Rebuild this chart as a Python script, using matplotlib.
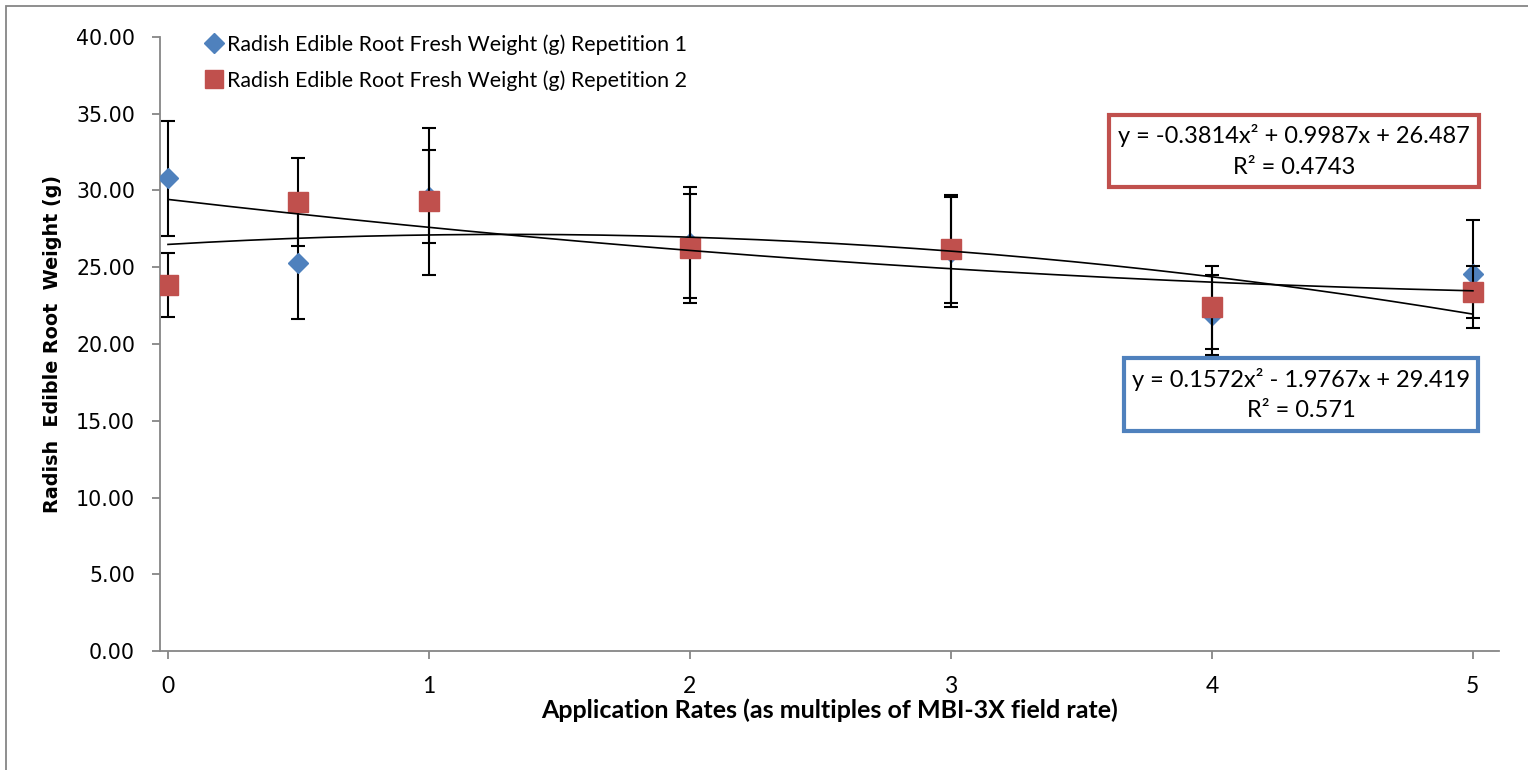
import matplotlib
matplotlib.use("Agg")
import matplotlib.pyplot as plt
from matplotlib.patches import Rectangle
from matplotlib.lines import Line2D
import numpy as np

# ---- data ----
rates = [0, 0.5, 1, 2, 3, 4, 5]
rep1 = [30.8, 25.3, 29.6, 26.6, 26.0, 21.9, 24.55]
rep1_err = [3.75, 3.7, 3.05, 3.6, 3.6, 2.6, 3.5]
rep2 = [23.85, 29.25, 29.3, 26.25, 26.2, 22.4, 23.4]
rep2_err = [2.1, 2.87, 4.8, 3.55, 3.5, 2.7, 1.68]
fit1 = [0.1572, -1.9767, 29.419]   # y = a x^2 + b x + c  (Repetition 1)
fit2 = [-0.3814, 0.9987, 26.487]   # Repetition 2
label1 = "Radish Edible Root Fresh Weight (g) Repetition 1"
label2 = "Radish Edible Root Fresh Weight (g) Repetition 2"
eq1 = "y = 0.1572x² - 1.9767x + 29.419\nR² = 0.571"
eq2 = "y = -0.3814x² + 0.9987x + 26.487\nR² = 0.4743"
yticks = [0, 5, 10, 15, 20, 25, 30, 35, 40]
xticks = [0, 1, 2, 3, 4, 5]
xlabel = "Application Rates (as multiples of MBI-3X field rate)"
ylabel = "Radish  Edible Root  Weight (g)"

BLUE = "#4F81BD"
RED = "#C0504D"
GRAY = "#868686"
W, H = 1528, 770
TXT = "Lato"

fig = plt.figure(figsize=(W / 100, H / 100), dpi=100)

def fx(px):
    return px / W

def fy(py):
    return 1 - py / H

ax = fig.add_axes([fx(160), fy(651), fx(1499) - fx(160), fy(37) - fy(651)])
ax.set_xlim(-0.0306, 5.1)
ax.set_ylim(0, 40)

# outer border (top & left visible)
fig.patches.append(Rectangle((fx(6), -0.1), 2, fy(6) + 0.1, transform=fig.transFigure,
                             fill=False, edgecolor=GRAY, lw=1.3))

# error bars and markers
ax.errorbar(rates, rep1, yerr=rep1_err, fmt="none", ecolor="black", elinewidth=1.5,
            capsize=5, capthick=1.5, zorder=2)
ax.plot(rates, rep1, linestyle="none", marker="D", markersize=10, color=BLUE,
        markeredgecolor=BLUE, zorder=3, label=label1)
ax.errorbar(rates, rep2, yerr=rep2_err, fmt="none", ecolor="black", elinewidth=1.5,
            capsize=5, capthick=1.5, zorder=4)
ax.plot(rates, rep2, linestyle="none", marker="s", markersize=14, color=RED,
        markeredgecolor=RED, zorder=5, label=label2)

# trend lines
xx = np.linspace(rates[0], rates[-1], 200)
ax.plot(xx, np.polyval(fit1, xx), color="black", lw=1.2, zorder=6)
ax.plot(xx, np.polyval(fit2, xx), color="black", lw=1.2, zorder=6)

# axes styling
for s in ["top", "right"]:
    ax.spines[s].set_visible(False)
for s in ["left", "bottom"]:
    ax.spines[s].set_color(GRAY)
    ax.spines[s].set_linewidth(1.3)
ax.set_yticks(yticks)
ax.set_yticklabels([f"{v:.2f}" for v in yticks], fontfamily="DejaVu Sans", fontsize=14.8)
ax.set_xticks(xticks)
ax.set_xticklabels([str(v) for v in xticks], fontfamily=TXT, fontsize=16.5)
ax.tick_params(axis="y", direction="out", length=6, width=1.3, color=GRAY, pad=12)
ax.tick_params(axis="x", direction="out", length=6, width=1.3, color=GRAY, pad=12)

ax.set_xlabel(xlabel, fontfamily=TXT, fontweight="bold", fontsize=18.0, labelpad=1)
ax.set_ylabel(ylabel, fontfamily="DejaVu Sans", fontweight="bold", fontsize=13.8, labelpad=10)

# legend
handles = [Line2D([], [], linestyle="none", marker="D", markersize=10, color=BLUE),
           Line2D([], [], linestyle="none", marker="s", markersize=12.5, color=RED)]
leg = ax.legend(handles, [label1, label2], loc="upper left",
                bbox_to_anchor=(fx(205), fy(34)), bbox_transform=fig.transFigure,
                frameon=False, handlelength=0.8, handletextpad=0.25, labelspacing=0.72,
                borderpad=0, borderaxespad=0, prop={"family": TXT, "size": 15.4})

# equation boxes
def eqbox(x0, y0, x1, y1, color, text):
    fig.patches.append(Rectangle((fx(x0), fy(y1)), fx(x1) - fx(x0), fy(y0) - fy(y1),
                                 transform=fig.transFigure, fill=True, facecolor="white",
                                 edgecolor=color, lw=3, zorder=10))
    fig.text((fx(x0) + fx(x1)) / 2, (fy(y0) + fy(y1)) / 2, text, ha="center", va="center",
             fontfamily=TXT, fontsize=17.0, linespacing=1.55, zorder=11)

eqbox(1109, 115, 1479, 187, RED, eq2)
eqbox(1124, 358, 1478, 431, BLUE, eq1)

fig.savefig("out.png", dpi=100)
